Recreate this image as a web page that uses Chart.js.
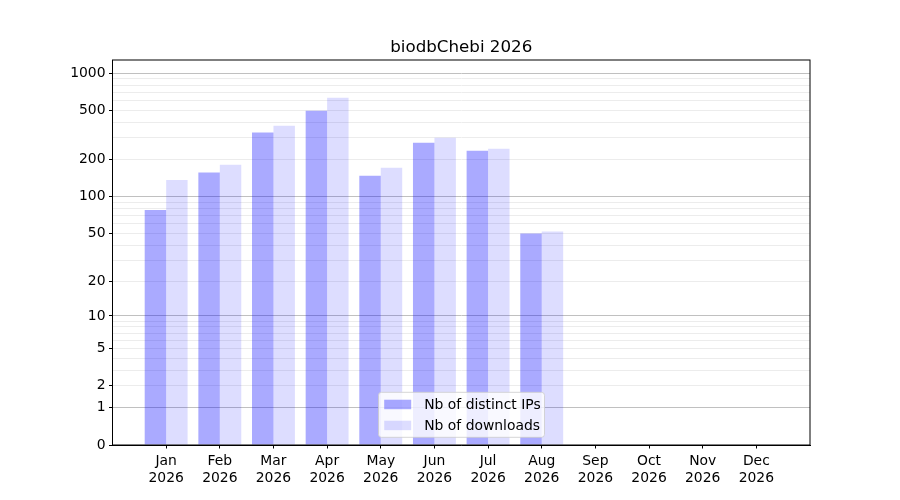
<!DOCTYPE html>
<html>
<head>
<meta charset="utf-8">
<script src="https://cdn.jsdelivr.net/npm/chart.js@4.4.1/dist/chart.umd.min.js"></script>
<style>
  body { margin: 0; background: #fff; }
  #wrap { width: 900px; height: 500px; }
</style>
</head>
<body>
<div id="wrap"><canvas id="stats"></canvas></div>
<script>
// data
const months = ["Jan", "Feb", "Mar", "Apr", "May", "Jun", "Jul", "Aug", "Sep", "Oct", "Nov", "Dec"];
const year = "2026";
const ipsCounts = [78, 157, 332, 498, 148, 274, 236, 50, 0, 0, 0, 0];
const downloadCounts = [137, 182, 377, 634, 172, 301, 245, 52, 0, 0, 0, 0];
const yTickLabels = [0, 1, 2, 5, 10, 20, 50, 100, 200, 500, 1000];
const yMinorTicks = [3, 4, 6, 7, 8, 9, 30, 40, 60, 70, 80, 90, 300, 400, 600, 700, 800, 900];
const yMajorGrid = [1, 10, 100, 1000];

const FONT = "'DejaVu Sans', sans-serif";

// y axis scale: log10(1 + v)
class Log1pScale extends Chart.LinearScale {
  static id = 'log1p';
  static defaults = {};
  buildTicks() {
    return yTickLabels.concat(yMinorTicks).sort((a, b) => a - b).map(v => ({ value: v }));
  }
  configure() {
    super.configure();
    this._startValue = Math.log10(1 + this.min);
    this._valueRange = Math.log10(1 + this.max) - this._startValue;
  }
  getPixelForValue(value) {
    if (value === null || value === undefined || isNaN(value)) return NaN;
    return this.getPixelForDecimal((Math.log10(1 + value) - this._startValue) / this._valueRange);
  }
  getValueForPixel(pixel) {
    const d = this.getDecimalForPixel(pixel);
    return Math.pow(10, this._startValue + d * this._valueRange) - 1;
  }
}
Chart.register(Log1pScale);

// frame, title and legend like the original
const decorations = {
  id: 'decorations',
  afterDraw(chart) {
    const ctx = chart.ctx;
    const ca = chart.chartArea;
    ctx.save();
    ctx.strokeStyle = '#000';
    ctx.lineWidth = 1;
    ctx.strokeRect(ca.left, ca.top, ca.right - ca.left, ca.bottom - ca.top);

    ctx.fillStyle = '#000';
    ctx.font = '16.7px ' + FONT;
    ctx.textAlign = 'center';
    ctx.textBaseline = 'alphabetic';
    ctx.fillText('biodbChebi ' + year, (ca.left + ca.right) / 2, ca.top - 8.3);

    // legend box
    const lx = ca.left + 266, ly = ca.top + 332.3, lw = 166, lh = 45;
    ctx.beginPath();
    ctx.roundRect(lx, ly, lw, lh, 3);
    ctx.fillStyle = 'rgba(255,255,255,0.8)';
    ctx.fill();
    ctx.strokeStyle = 'rgba(204,204,204,0.8)';
    ctx.stroke();
    ctx.font = '13.9px ' + FONT;
    ctx.textAlign = 'left';
    chart.data.datasets.forEach((ds, i) => {
      const rowTop = ly + 7.4 + i * 21;
      ctx.fillStyle = ds.backgroundColor;
      ctx.fillRect(lx + 5.7, rowTop, 27, 9.5);
      ctx.fillStyle = '#000';
      ctx.fillText(ds.label, lx + 45.7, rowTop + 9.2);
    });
    ctx.restore();
  }
};

const ctx = document.getElementById('stats').getContext('2d');
new Chart(ctx, {
  type: 'bar',
  data: {
    datasets: [
      {
        label: 'Nb of distinct IPs',
        data: ipsCounts.map((v, i) => ({ x: i + 1, y: v })),
        backgroundColor: 'rgba(0, 0, 255, 0.333)',
        borderWidth: 0
      },
      {
        label: 'Nb of downloads',
        data: downloadCounts.map((v, i) => ({ x: i + 1, y: v })),
        backgroundColor: 'rgba(0, 0, 255, 0.133)',
        borderWidth: 0
      }
    ]
  },
  options: {
    responsive: true,
    maintainAspectRatio: false,
    animation: false,
    layout: { padding: { top: 60, right: 90, left: 0, bottom: 0 } },
    datasets: { bar: { categoryPercentage: 0.8, barPercentage: 1.0 } },
    scales: {
      x: {
        type: 'linear',
        min: 0,
        max: 13,
        offset: false,
        afterBuildTicks: function(scale) {
          scale.ticks = months.map((m, i) => ({ value: i + 1 }));
        },
        afterFit: function(scale) { scale.height = 55; },
        grid: { offset: false, drawOnChartArea: false, tickLength: 3.5, tickColor: '#000', tickWidth: 1 },
        border: { color: '#000', width: 1 },
        ticks: {
          autoSkip: false,
          maxRotation: 0,
          padding: 5,
          color: '#000',
          font: { family: FONT, size: 13.9, lineHeight: 1.2 },
          callback: function(value) {
            return [months[value - 1], year];
          }
        }
      },
      y: {
        type: 'log1p',
        min: 0,
        max: 1280,
        afterFit: function(scale) { scale.width = 112.5; },
        grid: {
          tickLength: 3.5,
          lineWidth: 1,
          color: function(c) {
            const v = c.tick ? c.tick.value : null;
            if (v === 0) return 'rgba(0,0,0,0)';
            return yMajorGrid.includes(v) ? '#c0c0c0' : '#ececec';
          },
          tickColor: function(c) {
            const v = c.tick ? c.tick.value : null;
            return yTickLabels.includes(v) ? '#000' : 'rgba(0,0,0,0)';
          }
        },
        border: { color: '#000', width: 1 },
        ticks: {
          autoSkip: false,
          padding: 3.5,
          color: '#000',
          font: { family: FONT, size: 13.9 },
          callback: function(value) {
            return yTickLabels.includes(value) ? String(value) : '';
          }
        }
      }
    },
    plugins: {
      legend: { display: false },
      title: { display: false },
      tooltip: { enabled: false }
    }
  },
  plugins: [decorations]
});
</script>
</body>
</html>
